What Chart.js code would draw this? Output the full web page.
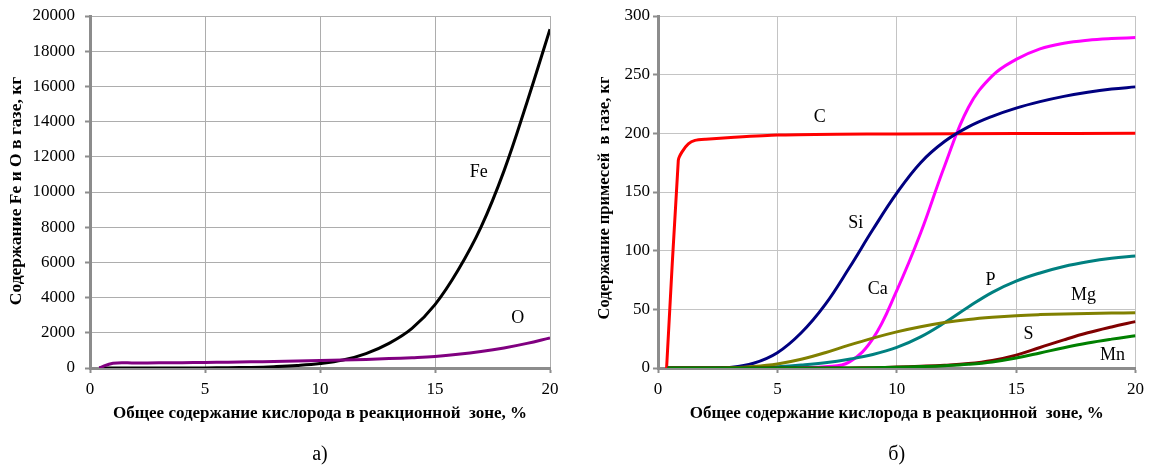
<!DOCTYPE html>
<html>
<head>
<meta charset="utf-8">
<script src="https://cdn.jsdelivr.net/npm/chart.js@4.4.0/dist/chart.umd.min.js"></script>
<style>
    body { margin: 0; background: #fff; width: 1150px; height: 466px; overflow: hidden; position: relative; }
    canvas { position: absolute; top: 0; }
    #chartA { left: 0; }
    #chartB { left: 575px; }
</style>
</head>
<body>
<canvas id="chartA" width="575" height="466"></canvas>
<canvas id="chartB" width="575" height="466"></canvas>
<script>
// x values: total oxygen in reaction zone, %
const oxygen = [0.4, 1, 2, 3, 4, 5, 6, 7, 8, 9, 10, 11, 12, 13, 14, 15, 16, 17, 18, 19, 20];
const oxygenC = [0.36, 0.85, 1.0, 1.27, 1.55, 2, 3.2, 5, 7.5, 10, 15, 20];

// chart a) Fe and O in gas, kg
const feValues = [0, 0, 0, 0, 0, 5, 15, 35, 75, 140, 250, 450, 820, 1400, 2250, 3600, 5550, 8000, 11200, 15100, 19250];
const oValues = [0, 275, 285, 295, 305, 315, 330, 350, 375, 400, 425, 455, 490, 533, 585, 655, 775, 935, 1140, 1400, 1710];

// chart б) impurities in gas, kg
const cValues = [0, 177, 184, 191, 194, 195, 196.6, 198.5, 199.2, 199.5, 199.8, 200];
const siValues = [0, 0, 0, 0.5, 4, 13, 30, 54, 85, 118, 149, 175, 193, 205.5, 214.5, 221.5, 227, 231.5, 235, 237.7, 239.6];
const caValues = [0, 0, 0, 0, 0, 0, 0.3, 1, 5, 25, 66, 115, 172, 222, 249, 263, 272, 276.8, 279.4, 280.8, 281.6];
const pValues = [0, 0, 0, 0, 0, 1, 2.5, 4.5, 7.5, 11.5, 17.5, 26.5, 38.5, 52, 64.5, 74, 81, 86.5, 90.5, 93.5, 95.5];
const mgValues = [0, 0, 0, 0.3, 1.3, 3.5, 7.5, 13, 19.5, 25.5, 30.8, 35.2, 38.7, 41.3, 43.2, 44.6, 45.5, 46.1, 46.5, 46.8, 47];
const sValues = [0, 0, 0, 0, 0, 0, 0, 0, 0, 0.3, 0.8, 1.5, 2.4, 3.8, 6.5, 11, 17.5, 24, 30, 35, 39.5];
const mnValues = [0, 0, 0, 0, 0, 0, 0, 0, 0, 0.2, 0.6, 1.2, 2, 3.2, 5.2, 8.5, 12.8, 17.3, 21.3, 24.6, 27.5];

const xTicks = [0, 5, 10, 15, 20];

const serif = "'Liberation Serif', 'Times New Roman', serif";

function pts(xs, ys) {
    return xs.map((x, i) => ({ x: x, y: ys[i] }));
}

function line(label, xs, ys, color, tension) {
    return {
        label: label,
        data: pts(xs, ys),
        borderColor: color,
        backgroundColor: color,
        borderWidth: 3,
        pointRadius: 0,
        fill: false,
        tension: tension === undefined ? 0.4 : tension
    };
}

// draws axis titles, curve names and the a)/б) captions
const textPlugin = {
    id: 'texts',
    afterDraw(chart, args, o) {
        const { ctx, chartArea: a, scales } = chart;
        ctx.save();
        ctx.fillStyle = '#000';
        ctx.textAlign = 'center';
        ctx.textBaseline = 'middle';

        ctx.font = '18px ' + serif;
        o.labels.forEach(l => {
            ctx.fillText(l.text, scales.x.getPixelForValue(l.x), scales.y.getPixelForValue(l.y));
        });

        ctx.font = 'bold 17px ' + serif;
        ctx.fillText(o.xTitle, (a.left + a.right) / 2, a.bottom + 46);

        ctx.save();
        ctx.font = 'bold ' + o.yTitleSize + 'px ' + serif;
        ctx.translate(o.yTitleX, o.yTitleY);
        ctx.rotate(-Math.PI / 2);
        ctx.fillText(o.yTitle, 0, 0);
        ctx.restore();

        ctx.font = '20px ' + serif;
        ctx.fillText(o.caption, (a.left + a.right) / 2, a.bottom + 87);
        ctx.restore();
    }
};

function makeChart(id, datasets, yMax, yStep, yWidth, padRight, tickPad, texts, gridColor) {
    return new Chart(document.getElementById(id), {
        type: 'line',
        data: { datasets: datasets },
        plugins: [textPlugin],
        options: {
            responsive: false,
            animation: false,
            layout: { padding: { top: 16, right: padRight, left: 0, bottom: 0 } },
            plugins: {
                legend: { display: false },
                tooltip: { enabled: false },
                texts: texts
            },
            scales: {
                x: {
                    type: 'linear',
                    min: 0,
                    max: 20,
                    afterFit: s => { s.height = 98; },
                    afterBuildTicks: s => { s.ticks = xTicks.map(v => ({ value: v })); },
                    ticks: { color: '#000', padding: 6, font: { family: serif, size: 17 } },
                    grid: { color: gridColor, lineWidth: 1, tickLength: 5, tickColor: '#8c8c8c', tickWidth: 2 },
                    border: { color: '#8c8c8c', width: 3 }
                },
                y: {
                    min: 0,
                    max: yMax,
                    afterFit: s => {
                        s.width = yWidth;
                        s.paddingTop = 10;
                        s.paddingBottom = 10;
                    },
                    ticks: {
                        stepSize: yStep,
                        color: '#000',
                        padding: tickPad,
                        font: { family: serif, size: 17 },
                        callback: v => String(v)
                    },
                    grid: { color: gridColor, lineWidth: 1, tickLength: 5, tickColor: '#8c8c8c', tickWidth: 2 },
                    border: { color: '#8c8c8c', width: 3 }
                }
            }
        }
    });
}

makeChart('chartA', [
    line('O', oxygen, oValues, '#800080'),
    line('Fe', oxygen, feValues, '#000000')
], 20000, 2000, 90, 25, 10, {
    labels: [
        { text: 'Fe', x: 16.9, y: 11100 },
        { text: 'O', x: 18.6, y: 2840 }
    ],
    xTitle: 'Общее содержание кислорода в реакционной  зоне, %',
    yTitle: 'Содержание Fe и О в газе, кг',
    yTitleSize: 17.5,
    yTitleX: 16,
    yTitleY: 191,
    caption: 'а)'
}, '#adadad');

makeChart('chartB', [
    line('Mn', oxygen, mnValues, '#008000'),
    line('S', oxygen, sValues, '#800000'),
    line('Mg', oxygen, mgValues, '#808000'),
    line('P', oxygen, pValues, '#008080'),
    line('Si', oxygen, siValues, '#000080'),
    line('Ca', oxygen, caValues, '#ff00ff'),
    line('C', oxygenC, cValues, '#ff0000', 0.2)
], 300, 50, 83, 14, 3, {
    labels: [
        { text: 'C', x: 6.78, y: 214 },
        { text: 'Si', x: 8.28, y: 123 },
        { text: 'Ca', x: 9.2, y: 67 },
        { text: 'P', x: 13.93, y: 75 },
        { text: 'Mg', x: 17.82, y: 62 },
        { text: 'S', x: 15.52, y: 29 },
        { text: 'Mn', x: 19.04, y: 11 }
    ],
    xTitle: 'Общее содержание кислорода в реакционной  зоне, %',
    yTitle: 'Содержание примесей  в газе, кг',
    yTitleSize: 16.5,
    yTitleX: 30,
    yTitleY: 198,
    caption: 'б)'
}, '#c4c4c4');
</script>
</body>
</html>
